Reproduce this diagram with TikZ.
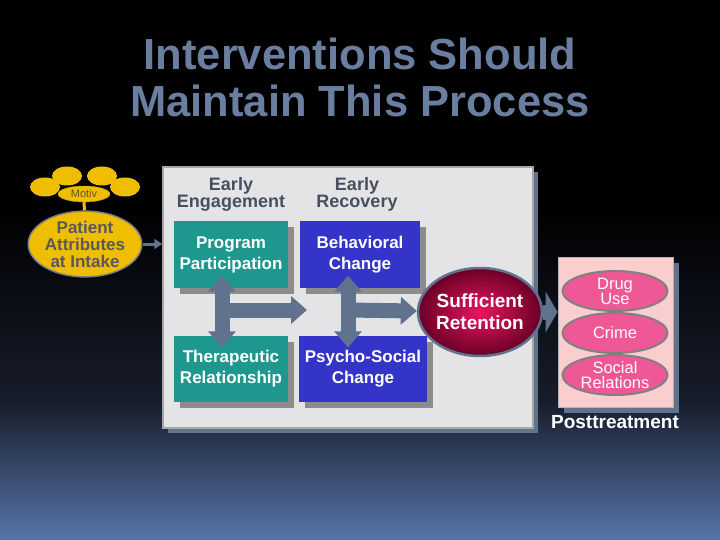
\documentclass[tikz,border=0pt]{standalone}
\usepackage{fontspec}
\setmainfont{Liberation Sans}
\usetikzlibrary{positioning,arrows.meta,shapes.geometric,shadows}
\definecolor{bgbot}{RGB}{88,116,168}
\definecolor{bgmid}{RGB}{22,28,42}
\definecolor{titlecol}{RGB}{106,126,160}
\definecolor{headcol}{RGB}{70,80,96}
\definecolor{tealbox}{RGB}{30,152,142}
\definecolor{bluebox}{RGB}{52,52,200}
\definecolor{boxshade}{RGB}{140,140,140}
\definecolor{slate}{RGB}{96,114,140}
\definecolor{marble}{RGB}{228,228,230}
\definecolor{gold}{RGB}{240,190,0}
\definecolor{motivtext}{RGB}{100,84,30}
\definecolor{srin}{RGB}{235,20,95}
\definecolor{srout}{RGB}{105,0,38}
\definecolor{pinkbox}{RGB}{250,206,206}
\definecolor{ellpink}{RGB}{238,88,150}
\definecolor{ellred}{RGB}{205,18,62}
\pgfdeclareverticalshading{slide}{100bp}{color(0bp)=(bgbot); color(25bp)=(bgbot); color(38bp)=(bgmid); color(56bp)=(black); color(100bp)=(black)}
\begin{document}
\begin{tikzpicture}[x=1pt,y=-1pt,node distance=47pt,
    main node/.style={rectangle,align=center,inner sep=0pt},
    title node/.style={main node,text=titlecol,font=\bfseries\fontsize{43.5}{47}\selectfont},
    head node/.style={main node,text=headcol,font=\bfseries\fontsize{18}{15}\selectfont},
    box node/.style={main node,text=white,font=\bfseries\fontsize{17}{21}\selectfont,minimum height=66pt,
      general shadow={fill=boxshade,shadow xshift=6pt,shadow yshift=-6pt}},
    blob/.style={ellipse,fill=gold,inner sep=0pt,minimum width=30pt,minimum height=19pt},
    ell node/.style={ellipse,draw=gray,line width=2pt,left color=ellpink,middle color=ellred,right color=ellpink,
      text=white,font=\fontsize{16.5}{15}\selectfont,align=center,inner sep=0pt,minimum width=105pt,minimum height=40pt},
    fat/.style={draw=slate,line width=15pt},
    bigtip/.tip={Triangle[width=27pt,length=16pt]}]
  \shade[shading=slide] (0,0) rectangle (720,540);
  \useasboundingbox (0,0) rectangle (720,540);
  % title
  \node[title node] (1) at (360,54) {Interventions Should};
  \node[title node] (2) [below of=1] {Maintain This Process};
  % patient attributes
  \node[blob] (b1) at (67,176) {};
  \node[blob] (b2) at (102,176) {};
  \node[blob] (b3) at (45,187) {};
  \node[blob] (b4) at (125,187) {};
  \node[ellipse,fill=gold,draw=gold!80!black,inner sep=0pt,minimum width=52pt,minimum height=16pt,
    text=motivtext,font=\fontsize{11}{11}\selectfont] (m) at (84,194) {Motiv};
  \node[ellipse,fill=gold,draw=gray,line width=1.5pt,inner sep=0pt,minimum width=110pt,minimum height=52pt,
    align=center,text=black!65,font=\bfseries\fontsize{17}{17}\selectfont] (pa) at (85,244) {Patient\\Attributes\\at Intake};
  \draw[gold,line width=3pt] (m) -- (pa);
  % in treatment
  \node[main node,fill=marble,draw=gray!70,line width=1.5pt,minimum width=370pt,minimum height=261pt,
    general shadow={fill=slate,shadow xshift=5pt,shadow yshift=-5pt}] (bg) at (348,297.5) {};
  \draw[slate,line width=3pt,-{Triangle[width=10pt,length=8pt]}] (pa.east) -- (pa.east -| bg.west);
  \node[head node] (h1) at (231,194) {Early\\Engagement};
  \node[head node] (h2) at (357,194) {Early\\Recovery};
  \node[box node,fill=tealbox,minimum width=114pt] (3) at (231,254.5) {Program\\Participation};
  \node[box node,fill=tealbox,minimum width=114pt] (4) at (231,368.5) {Therapeutic\\Relationship};
  \node[box node,fill=bluebox,minimum width=120pt] (5) at (360,254.5) {Behavioral\\Change};
  \node[box node,fill=bluebox,minimum width=128pt] (6) at (363,368.5) {Psycho-Social\\Change};
  \coordinate (j1) at (222,310);
  \coordinate (j2) at (348,310);
  \coordinate (e1) at (307,310);
  \node[ellipse,draw=slate,line width=2.5pt,inner color=srin,outer color=srout,inner sep=0pt,
    minimum width=110pt,minimum height=88pt,align=center,text=white,
    font=\bfseries\fontsize{19}{22}\selectfont] (sr) at (480,312) {Sufficient\\Retention};
  \draw[fat,bigtip-bigtip] ([yshift=12pt]3.south -| j1) -- ([yshift=-12pt]4.north -| j1);
  \draw[fat,-bigtip] (j1) -- (e1);
  \draw[fat,bigtip-bigtip] ([yshift=12pt]5.south -| j2) -- ([yshift=-12pt]6.north -| j2);
  \draw[fat,-bigtip] (j2) -- (sr);
  % posttreatment
  \node[main node,fill=pinkbox,draw=gray!60,line width=1pt,minimum width=115pt,minimum height=150pt,
    general shadow={fill=slate,shadow xshift=6pt,shadow yshift=-6pt}] (pb) at (615.5,332) {};
  \draw[fat,-{Triangle[width=41pt,length=12pt]}] (sr.east) -- (sr.east -| pb.west);
  \node[ell node] (dr) at (615,291) {Drug\\Use};
  \node[ell node,node distance=42pt,below of=dr] (cr) {Crime};
  \node[ell node,node distance=42pt,below of=cr] (so) {Social\\Relations};
  \node[main node,text=white,font=\bfseries\fontsize{19}{19}\selectfont] (pt) at (615,422) {Posttreatment};
\end{tikzpicture}
\end{document}
